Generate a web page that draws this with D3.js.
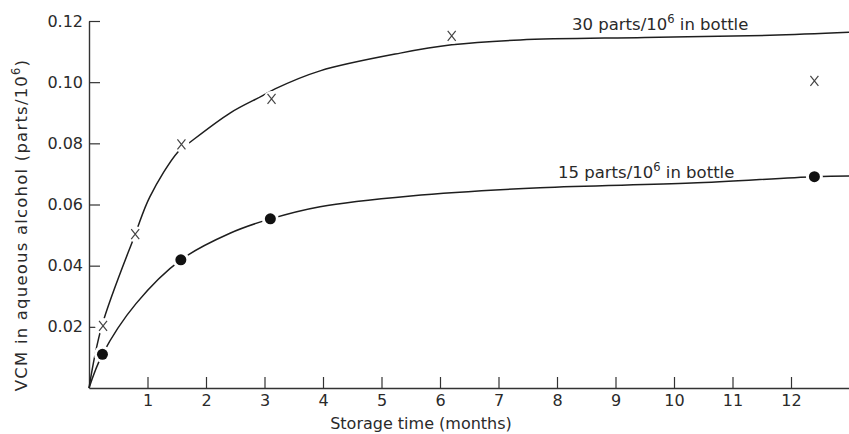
<!DOCTYPE html>
<html>
<head>
<meta charset="utf-8">
<script src="https://cdn.jsdelivr.net/npm/d3@7"></script>
<style>
  html, body { margin: 0; padding: 0; background: #fff; }
  svg { display: block; }
  text { font-family: "DejaVu Sans", sans-serif; fill: #2a2a2a; }
</style>
</head>
<body>
<svg id="chart" width="849" height="434"></svg>
<script>
// Measured points: 30 parts/10^6 in bottle (crosses)
const months30 = [0.24, 0.79, 1.58, 3.12, 6.2, 12.4];
const vcm30    = [0.0203, 0.0503, 0.0797, 0.0945, 0.1151, 0.1004];

// Measured points: 15 parts/10^6 in bottle (filled dots)
const months15 = [0.23, 1.57, 3.1, 12.4];
const vcm15    = [0.0110, 0.0419, 0.0553, 0.0691];

// Hand-fitted trend curves
const curve30Months = [0, 0.22, 0.79, 1.04, 1.52, 1.71, 2.41, 2.96, 3.18, 3.95, 5.32, 6.2, 7.37, 9.5, 11.64, 13];
const curve30Vcm    = [0, 0.0203, 0.0503, 0.0625, 0.0772, 0.0801, 0.0899, 0.0955, 0.0978, 0.1037, 0.1095, 0.1122, 0.1138, 0.1146, 0.1153, 0.1163];
const curve15Months = [0, 0.23, 0.8, 1.57, 2.41, 3.1, 3.95, 5.5, 7.71, 10.3, 12.4, 13];
const curve15Vcm    = [0, 0.0110, 0.0275, 0.0419, 0.0506, 0.0553, 0.0593, 0.0628, 0.0655, 0.0670, 0.0691, 0.0693];

// Axis ticks
const xTicks = [1, 2, 3, 4, 5, 6, 7, 8, 9, 10, 11, 12];
const yTicks = [0.02, 0.04, 0.06, 0.08, 0.10, 0.12];

const svg = d3.select("#chart");
svg.append("rect").attr("width", 849).attr("height", 434).attr("fill", "#fff");

const x = d3.scaleLinear().domain([0, 13]).range([89, 849.5]);
const y = d3.scaleLinear().domain([0, 0.12]).range([388, 21]);

// Axes with inward ticks
const yAxis = d3.axisLeft(y).tickValues(yTicks).tickSizeInner(-11).tickSizeOuter(0)
  .tickPadding(6).tickFormat(d3.format(".2f"));
const xAxis = d3.axisBottom(x).tickValues(xTicks).tickSizeInner(-11).tickSizeOuter(0)
  .tickPadding(7).tickFormat(d3.format("d"));

const gy = svg.append("g").attr("transform", `translate(${x(0)},0)`).call(yAxis);
const gx = svg.append("g").attr("transform", `translate(0,${y(0)})`).call(xAxis);
[gx, gy].forEach(g => {
  g.select(".domain").attr("stroke", "#333").attr("stroke-width", 1.4);
  g.selectAll(".tick line").attr("stroke", "#333").attr("stroke-width", 1.2);
  g.selectAll(".tick text").attr("font-size", 16).attr("fill", "#2a2a2a")
    .style("font-family", "'DejaVu Sans', sans-serif");
});

// Trend curves
const line = d3.line().x(d => x(d[0])).y(d => y(d[1])).curve(d3.curveCatmullRom.alpha(0.5));
const c30 = d3.zip(curve30Months, curve30Vcm);
const c15 = d3.zip(curve15Months, curve15Vcm);
svg.append("path").datum(c30).attr("d", line)
  .attr("fill", "none").attr("stroke", "#1e1e1e").attr("stroke-width", 1.5);
svg.append("path").datum(c15).attr("d", line)
  .attr("fill", "none").attr("stroke", "#1e1e1e").attr("stroke-width", 1.5);

// Breaks in the curves around the markers
const pts30 = d3.zip(months30, vcm30);
const pts15 = d3.zip(months15, vcm15);
svg.append("g").selectAll("circle").data(pts30).join("circle")
  .attr("cx", d => x(d[0])).attr("cy", d => y(d[1])).attr("r", 8).attr("fill", "#fff");
svg.append("g").selectAll("circle").data(pts15).join("circle")
  .attr("cx", d => x(d[0])).attr("cy", d => y(d[1])).attr("r", 8.5).attr("fill", "#fff");

// Crosses
const cross = svg.append("g").attr("stroke", "#444").attr("stroke-width", 1.2).attr("fill", "none");
cross.selectAll("path").data(pts30).join("path")
  .attr("d", d => {
    const cx = x(d[0]), cy = y(d[1]);
    return `M${cx - 4},${cy - 5}L${cx + 4},${cy + 5}M${cx + 4},${cy - 5}L${cx - 4},${cy + 5}`;
  });

// Dots
svg.append("g").selectAll("circle").data(pts15).join("circle")
  .attr("cx", d => x(d[0])).attr("cy", d => y(d[1])).attr("r", 5.5).attr("fill", "#111");

// Curve labels
function seriesLabel(lead, px, py) {
  const t = svg.append("text").attr("x", px).attr("y", py).attr("font-size", 16.5);
  t.append("tspan").text(lead + " parts/10");
  t.append("tspan").attr("font-size", 11.5).attr("dy", -7).text("6");
  t.append("tspan").attr("dy", 7).text(" in bottle");
}
seriesLabel("30", 572, 30);
seriesLabel("15", 558, 178);

// Axis titles
svg.append("text").attr("x", 421).attr("y", 429).attr("text-anchor", "middle")
  .attr("font-size", 16).text("Storage time (months)");

const yt = svg.append("text")
  .attr("transform", "translate(27,225) rotate(-90)")
  .attr("text-anchor", "middle").attr("font-size", 16.5)
  .attr("letter-spacing", 1.2);
yt.append("tspan").text("VCM in aqueous alcohol (parts/10");
yt.append("tspan").attr("font-size", 11.5).attr("dy", -7).text("6");
yt.append("tspan").attr("dy", 7).text(")");
</script>
</body>
</html>
